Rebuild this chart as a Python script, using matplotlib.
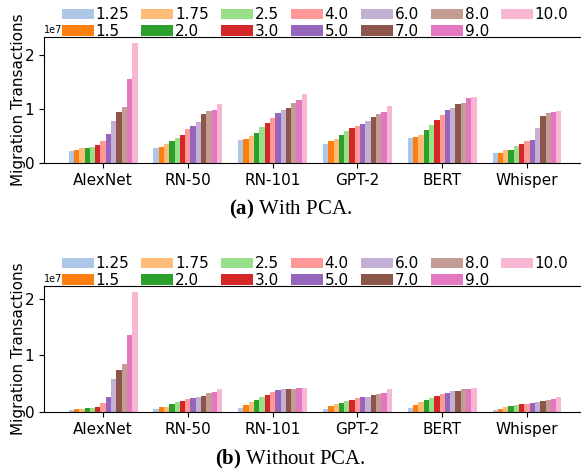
import matplotlib
matplotlib.use("Agg")
import matplotlib.pyplot as plt
import numpy as np

plt.rcParams["mathtext.fontset"] = "custom"
plt.rcParams["mathtext.rm"] = "Liberation Serif"
plt.rcParams["mathtext.bf"] = "Liberation Serif:bold"

models = ["AlexNet", "RN-50", "RN-101", "GPT-2", "BERT", "Whisper"]
ratios = ["1.25", "1.5", "1.75", "2.0", "2.5", "3.0", "4.0", "5.0", "6.0", "7.0", "8.0", "9.0", "10.0"]

# values in units of 1e7, one list per model (ratios in order)
with_pca = {
    "AlexNet": [0.215, 0.247, 0.284, 0.284, 0.30, 0.34, 0.41, 0.54, 0.78, 0.95, 1.04, 1.56, 2.23],
    "RN-50":   [0.28, 0.30, 0.36, 0.40, 0.47, 0.52, 0.64, 0.69, 0.77, 0.91, 0.97, 0.99, 1.10],
    "RN-101":  [0.43, 0.45, 0.51, 0.56, 0.67, 0.75, 0.84, 0.93, 0.99, 1.02, 1.12, 1.17, 1.28],
    "GPT-2":   [0.36, 0.40, 0.45, 0.52, 0.60, 0.65, 0.69, 0.73, 0.78, 0.86, 0.91, 0.95, 1.06],
    "BERT":    [0.47, 0.49, 0.52, 0.62, 0.71, 0.80, 0.90, 0.99, 1.02, 1.10, 1.12, 1.21, 1.23],
    "Whisper": [0.19, 0.19, 0.25, 0.25, 0.32, 0.36, 0.40, 0.43, 0.65, 0.88, 0.93, 0.95, 0.97],
}
without_pca = {
    "AlexNet": [0.035, 0.053, 0.053, 0.07, 0.07, 0.09, 0.16, 0.27, 0.58, 0.74, 0.85, 1.36, 2.12],
    "RN-50":   [0.053, 0.09, 0.09, 0.14, 0.18, 0.195, 0.23, 0.25, 0.27, 0.28, 0.34, 0.35, 0.41],
    "RN-101":  [0.07, 0.12, 0.18, 0.21, 0.27, 0.30, 0.35, 0.39, 0.41, 0.41, 0.41, 0.42, 0.42],
    "GPT-2":   [0.05, 0.11, 0.14, 0.16, 0.195, 0.21, 0.25, 0.27, 0.27, 0.30, 0.32, 0.34, 0.41],
    "BERT":    [0.07, 0.12, 0.18, 0.21, 0.25, 0.28, 0.32, 0.34, 0.37, 0.37, 0.41, 0.41, 0.42],
    "Whisper": [0.035, 0.05, 0.09, 0.11, 0.12, 0.14, 0.14, 0.16, 0.18, 0.195, 0.21, 0.23, 0.27],
}

colors = plt.get_cmap("tab20").colors[1:14]

fig = plt.figure(figsize=(5.81, 4.73), dpi=100)
ax1 = fig.add_axes([0.0757, 0.6554, 0.933, 0.2664])
ax2 = fig.add_axes([0.0757, 0.1290, 0.933, 0.2664])

x = np.arange(len(models))
n = len(ratios)
w = 0.0625

def draw(ax, data):
    for i, r in enumerate(ratios):
        vals = np.array([data[m][i] for m in models]) * 1e7
        ax.bar(x + (i - (n - 1) / 2) * w, vals, w, color=colors[i], label=r)
    ax.set_xticks(x)
    ax.set_xticklabels(models, fontsize=11)
    ax.tick_params(axis="y", labelsize=11)
    ax.set_ylabel("Migration Transactions", fontsize=11, labelpad=-1)
    ax.yaxis.get_offset_text().set_fontsize(7)
    ax.spines["right"].set_visible(False)
    ax.legend(ncol=7, loc="lower center", bbox_to_anchor=(0.5, 0.937), frameon=False,
              fontsize=11, columnspacing=0.8, handletextpad=0.1, labelspacing=0.1,
              handlelength=2.1, borderaxespad=0.0)

draw(ax1, with_pca)
draw(ax2, without_pca)

fig.text(0.5, 1 - 209 / 473, r"$\bf{(a)}$ With PCA.", ha="center", va="center",
         fontsize=15, family="Liberation Serif")
fig.text(0.5, 1 - 459 / 473, r"$\bf{(b)}$ Without PCA.", ha="center", va="center",
         fontsize=15, family="Liberation Serif")

fig.savefig("out.png", dpi=100)
